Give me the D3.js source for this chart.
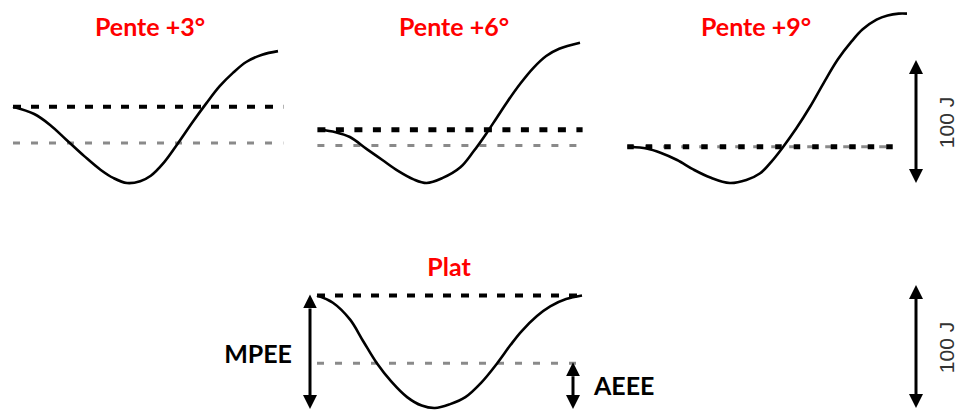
<!DOCTYPE html>
<html>
<head>
<meta charset="utf-8">
<script src="https://cdn.jsdelivr.net/npm/d3@7"></script>
<style>
  body { margin: 0; background: #fff; }
  svg { display: block; }
</style>
</head>
<body>
<script>
const W = 957;
const H = 411;

// titles of the four conditions
const titles = ["Pente +3°", "Pente +6°", "Pente +9°", "Plat"];

// stride phase (%) and mechanical energy (J, above the minimum)
const phase3 = [0, 8, 14, 20, 27, 33, 38, 43, 48, 52, 57, 62, 68, 73, 78, 83, 88, 94, 100];
const energy3 = [63, 57, 48, 36, 22, 11, 4, 0, 1.5, 6, 17, 32, 51, 66, 80, 91, 100, 106, 109];

const phase6 = [0, 6, 11.5, 18, 24, 30, 36, 41, 47, 54, 59, 64, 68, 72, 77, 82, 87, 92, 100];
const energy6 = [44, 42, 38, 28, 19, 10, 3, 0, 4, 13, 26, 41, 54, 67, 82, 95, 105, 111, 116];

const phase9 = [0, 6, 11, 17, 23, 29, 36, 42, 47, 51, 55, 60, 65, 70, 75, 80, 84, 89, 93, 97, 100];
const energy9 = [30, 28.5, 25, 19, 11, 4.5, 0, 2.5, 8, 17.5, 29, 45, 63, 83, 102, 117, 127, 135, 138.5, 140, 140];

const phasePlat = [0, 6, 12.5, 17.5, 22.6, 28, 34, 39.5, 44.5, 50, 56, 62, 68, 73, 77, 83, 88, 94, 100];
const energyPlat = [93, 87, 73, 55, 37, 22, 9, 2, 0, 3, 9, 21, 37, 52, 63, 76, 84, 90, 93];

// dashed reference levels (J): black = start level, grey = lower level
const blackLevel = [63, 44, 30, 93];
const greyLevel = [33, 31, 30, 37];

// scale bar
const scaleBar = [0, 100];
const scaleLabel = "100 J";

const series = [
  {phase: phase3, energy: energy3},
  {phase: phase6, energy: energy6},
  {phase: phase9, energy: energy9},
  {phase: phasePlat, energy: energyPlat}
];

// layout of each small panel
const layout = [
  {x0: 13, x1: 278, row: 0, dash: [0, 102], titleX: 150, titleY: 36},
  {x0: 320, x1: 580, row: 0, dash: [-1, 101], titleX: 454, titleY: 36},
  {x0: 630, x1: 907, row: 0, dash: [-1, 96], titleX: 756, titleY: 36},
  {x0: 317, x1: 582, row: 1, dash: [0, 100], titleX: 449, titleY: 276}
];

// one energy scale per row, same J -> px ratio
const yRow = [
  d3.scaleLinear().domain([0, 100]).range([183, 62]),
  d3.scaleLinear().domain([0, 100]).range([408, 287])
];

const svg = d3.select("body").append("svg")
  .attr("width", W)
  .attr("height", H);

const defs = svg.append("defs");
defs.append("marker")
  .attr("id", "head")
  .attr("viewBox", "0 0 10 10")
  .attr("refX", 0)
  .attr("refY", 5)
  .attr("markerUnits", "userSpaceOnUse")
  .attr("markerWidth", 14)
  .attr("markerHeight", 14)
  .attr("orient", "auto-start-reverse")
  .append("path")
  .attr("d", "M0,0 L10,5 L0,10 Z")
  .attr("fill", "#000");

// double headed vertical arrow between two pixel y positions
const arrow = function(x, yTop, yBottom) {
  const head = 13;
  svg.append("line")
    .attr("x1", x).attr("x2", x)
    .attr("y1", yTop + head)
    .attr("y2", yBottom - head)
    .attr("stroke", "#000")
    .attr("stroke-width", 3)
    .attr("marker-start", "url(#head)")
    .attr("marker-end", "url(#head)");
};

const dashStyle = [
  {black: "8,10", bw: 4},
  {black: "8,10.5", bw: 5},
  {black: "6.5,12", bw: 5},
  {black: "8,10", bw: 4}
];

series.forEach(function(s, i) {
  const L = layout[i];
  const x = d3.scaleLinear().domain([0, 100]).range([L.x0, L.x1]);
  const y = yRow[L.row];
  const g = svg.append("g");

  // grey dashed level
  g.append("line")
    .attr("x1", x(L.dash[0])).attr("x2", x(L.dash[1]))
    .attr("y1", y(greyLevel[i])).attr("y2", y(greyLevel[i]))
    .attr("stroke", "#8a8a8a")
    .attr("stroke-width", 3)
    .attr("stroke-dasharray", "7,11");

  // black dashed level
  g.append("line")
    .attr("x1", x(L.dash[0])).attr("x2", x(L.dash[1]))
    .attr("y1", y(blackLevel[i])).attr("y2", y(blackLevel[i]))
    .attr("stroke", "#000")
    .attr("stroke-width", dashStyle[i].bw)
    .attr("stroke-dasharray", dashStyle[i].black);

  const pts = s.phase.map(function(p, j) { return [p, s.energy[j]]; });
  const line = d3.line()
    .x(function(d) { return x(d[0]); })
    .y(function(d) { return y(d[1]); })
    .curve(d3.curveCatmullRom.alpha(0.5));

  g.append("path")
    .datum(pts)
    .attr("d", line)
    .attr("fill", "none")
    .attr("stroke", "#000")
    .attr("stroke-width", 2.6);

  g.append("text")
    .attr("x", L.titleX)
    .attr("y", L.titleY)
    .attr("text-anchor", "middle")
    .attr("font-family", "Lato, 'Open Sans', sans-serif")
    .attr("font-weight", "bold")
    .attr("font-size", "25px")
    .attr("fill", "#ff0000")
    .text(titles[i]);
});

// scale bars, one per row
yRow.forEach(function(y) {
  arrow(916, y(scaleBar[1]) - 1, y(scaleBar[0]) - 1);
  const cy = (y(scaleBar[0]) + y(scaleBar[1])) / 2;
  svg.append("text")
    .attr("transform", `translate(954, ${cy}) rotate(-90)`)
    .attr("text-anchor", "middle")
    .attr("font-family", "'Liberation Sans', Arial, sans-serif")
    .attr("font-size", "21px")
    .attr("fill", "#333")
    .text(scaleLabel);
});

// MPEE and AEEE annotations on the flat condition
const yP = yRow[1];
const minPlat = d3.min(energyPlat);
arrow(310, yP(blackLevel[3]), yP(minPlat));
arrow(573, yP(greyLevel[3]), yP(minPlat));

svg.append("text")
  .attr("x", 292)
  .attr("y", 363)
  .attr("text-anchor", "end")
  .attr("font-family", "Lato, 'Open Sans', sans-serif")
  .attr("font-weight", "bold")
  .attr("font-size", "25px")
  .attr("fill", "#000")
  .text("MPEE");

svg.append("text")
  .attr("x", 594)
  .attr("y", 395)
  .attr("font-family", "Lato, 'Open Sans', sans-serif")
  .attr("font-weight", "bold")
  .attr("font-size", "25px")
  .attr("fill", "#000")
  .text("AEEE");
</script>
</body>
</html>
